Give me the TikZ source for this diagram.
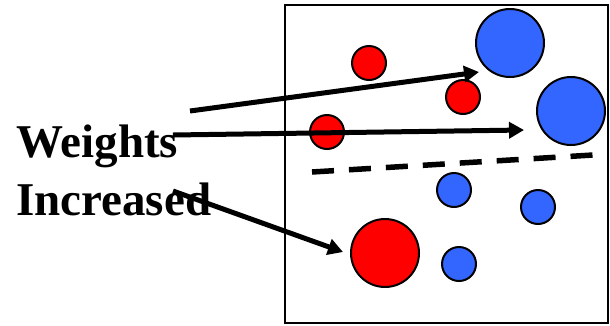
\documentclass[tikz,border=0pt]{standalone}
\usepackage{fontspec}
\setmainfont{Liberation Serif}
\usetikzlibrary{arrows.meta}
\definecolor{cred}{RGB}{255,0,0}
\definecolor{cblue}{RGB}{51,102,255}
\begin{document}
\begin{tikzpicture}[x=1pt,y=-1pt,
  dot/.style={circle,draw=black,line width=2pt,inner sep=0pt,minimum size=#1},
  rdot/.style={dot=#1,fill=cred},
  bdot/.style={dot=#1,fill=cblue},
  arr/.style={line width=5pt,-{Triangle[length=15pt,width=16pt]}},
  lbl/.style={font=\fontsize{47}{56}\selectfont\bfseries,anchor=base west,inner sep=0pt}]
\useasboundingbox (0,0) rectangle (610,325);
\fill[white] (0,0) rectangle (610,325);
\draw[line width=2.2pt] (285,5) rectangle (608,323);
% circles
\node[rdot=34pt] (r1) at (369,63) {};
\node[bdot=68pt] (b1) at (510,43) {};
\node[rdot=34pt] (r2) at (463,97) {};
\node[bdot=68pt] (b2) at (571,111) {};
\node[rdot=34pt] (r3) at (327,132) {};
\node[bdot=34pt] (b3) at (454,190) {};
\node[bdot=34pt] (b4) at (538,207) {};
\node[rdot=68pt] (r4) at (385,253) {};
\node[bdot=34pt] (b5) at (459,264) {};
% separator
\coordinate (d1) at (312,172);
\coordinate (d2) at (593,155);
\draw[line width=5.5pt,dash pattern=on 22pt off 15pt] (d1) -- (d2);
% labels
\node[lbl] (w1) at (16,157) {Weights};
\node[lbl] (w2) at (16,215) {Increased};
% arrows
\coordinate (s1) at (190,111);
\coordinate (e1) at (479,72);
\coordinate (s2) at (173,135);
\coordinate (e2) at (524,130);
\coordinate (s3) at (173,191);
\coordinate (e3) at (343,252);
\draw[arr] (s1) -- (e1);
\draw[arr] (s2) -- (e2);
\draw[arr] (s3) -- (e3);
\end{tikzpicture}
\end{document}
